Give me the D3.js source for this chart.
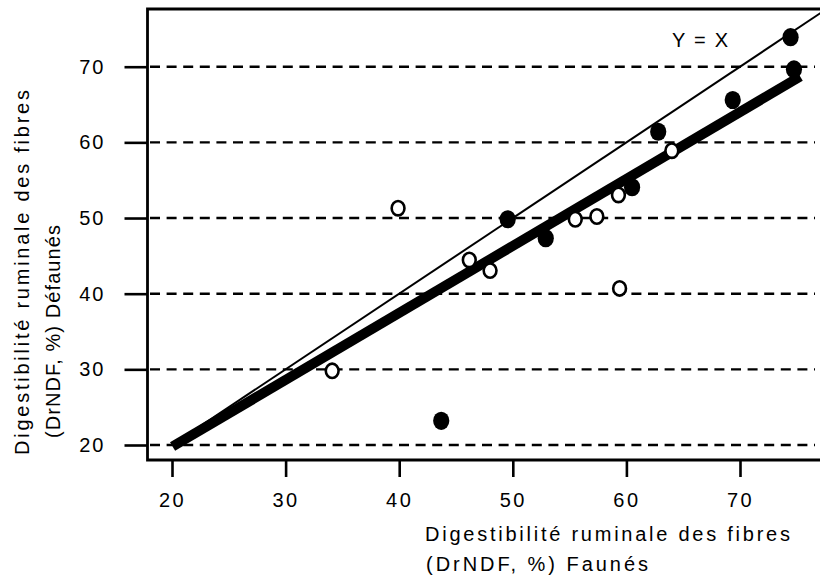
<!DOCTYPE html>
<html>
<head>
<meta charset="utf-8">
<script src="https://cdn.jsdelivr.net/npm/d3@7"></script>
<style>
  html, body { margin: 0; padding: 0; background: #fff; }
  svg { display: block; }
  text { font-family: "Liberation Sans", Arial, sans-serif; fill: #000; }
</style>
</head>
<body>
<svg id="chart" width="820" height="577"></svg>
<script>
// ---- data ----
const xTickValues = [20, 30, 40, 50, 60, 70];
const yTickValues = [20, 30, 40, 50, 60, 70];

// Filled markers
const filledX = [74.45, 74.75, 69.36, 62.8, 60.5, 49.55, 52.9, 43.7];
const filledY = [73.9, 69.65, 65.6, 61.4, 54.07, 49.84, 47.33, 23.2];

// Open markers
const openX = [39.9, 46.17, 48.0, 55.5, 57.4, 59.3, 64.0, 59.4, 34.1];
const openY = [51.3, 44.46, 43.05, 49.84, 50.2, 53.05, 58.9, 40.7, 29.8];

// Y = X reference line end points
const identityX = [20, 77.7];
const identityY = [20, 77.7];

// Fitted regression line end points
const fitX = [20.05, 75.3];
const fitY = [19.8, 68.7];

const xTitleLines = ["Digestibilité ruminale des fibres", "(DrNDF, %) Faunés"];
const yTitleLines = ["Digestibilité ruminale des fibres", "(DrNDF, %) Défaunés"];
const identityLabel = "Y = X";

// ---- layout ----
const svg = d3.select("#chart");
const frame = { left: 147.5, top: 9, bottom: 460, right: 820 };
const x = d3.scaleLinear().domain([20, 70]).range([172, 740]);
const y = d3.scaleLinear().domain([20, 70]).range([445, 66.7]);

// Dashed horizontal gridlines
svg.append("g").selectAll("line").data(yTickValues).join("line")
  .attr("x1", frame.left + 2.5).attr("x2", 815)
  .attr("y1", d => y(d)).attr("y2", d => y(d))
  .attr("stroke", "#000").attr("stroke-width", 2.4)
  .attr("stroke-dasharray", "10,6.6");

// Frame (top, left, bottom)
svg.append("path")
  .attr("d", `M${frame.right},${frame.top}H${frame.left}V${frame.bottom}H${frame.right}`)
  .attr("fill", "none").attr("stroke", "#000").attr("stroke-width", 2.8);

// Y axis ticks + labels
const yAxis = d3.axisLeft(y).tickValues(yTickValues).tickSize(23).tickPadding(19)
  .tickFormat(d3.format("d"));
const gy = svg.append("g").attr("transform", `translate(${frame.left},0)`).call(yAxis);
gy.select(".domain").remove();
gy.selectAll(".tick line").attr("stroke", "#000").attr("stroke-width", 2.6);
gy.selectAll(".tick text").attr("font-size", 20).attr("letter-spacing", 2)
  .attr("font-family", "Liberation Sans, Arial, sans-serif").attr("fill", "#000");

// X axis ticks + labels
const xAxis = d3.axisBottom(x).tickValues(xTickValues).tickSize(17).tickPadding(16)
  .tickFormat(d3.format("d"));
const gx = svg.append("g").attr("transform", `translate(0,${frame.bottom})`).call(xAxis);
gx.select(".domain").remove();
gx.selectAll(".tick line").attr("stroke", "#000").attr("stroke-width", 2.6);
gx.selectAll(".tick text").attr("font-size", 20).attr("letter-spacing", 2.5)
  .attr("font-family", "Liberation Sans, Arial, sans-serif").attr("fill", "#000");

// Identity line
const line = d3.line().x(d => x(d[0])).y(d => y(d[1]));
svg.append("path")
  .attr("d", line(d3.zip(identityX, identityY)))
  .attr("fill", "none").attr("stroke", "#000").attr("stroke-width", 2);

// Fitted line
svg.append("path")
  .attr("d", line(d3.zip(fitX, fitY)))
  .attr("fill", "none").attr("stroke", "#000").attr("stroke-width", 10)
  .attr("stroke-linecap", "butt");

// Open markers
svg.append("g").selectAll("ellipse").data(d3.zip(openX, openY)).join("ellipse")
  .attr("cx", d => x(d[0])).attr("cy", d => y(d[1]))
  .attr("rx", 6.4).attr("ry", 7.2)
  .attr("fill", "#fff").attr("stroke", "#000").attr("stroke-width", 2.6);

// Filled markers
svg.append("g").selectAll("ellipse").data(d3.zip(filledX, filledY)).join("ellipse")
  .attr("cx", d => x(d[0])).attr("cy", d => y(d[1]))
  .attr("rx", 8.1).attr("ry", 9.1)
  .attr("fill", "#000");

// Y = X label
svg.append("text").attr("x", 672).attr("y", 47)
  .attr("font-size", 20).attr("textLength", 56).attr("lengthAdjust", "spacing")
  .text(identityLabel);

// X axis title
const xTitleLayout = [{ x: 425, y: 541, len: 365 }, { x: 426, y: 571, len: 222 }];
svg.append("g").selectAll("text").data(xTitleLines).join("text")
  .attr("x", (d, i) => xTitleLayout[i].x).attr("y", (d, i) => xTitleLayout[i].y)
  .attr("font-size", 20)
  .attr("textLength", (d, i) => xTitleLayout[i].len).attr("lengthAdjust", "spacing")
  .text(d => d);

// Y axis title (rotated)
const yTitleLayout = [{ along: 455, base: 28.5, len: 365 }, { along: 438, base: 60, len: 213 }];
svg.append("g").selectAll("text").data(yTitleLines).join("text")
  .attr("transform", (d, i) => `translate(${yTitleLayout[i].base},${yTitleLayout[i].along}) rotate(-90)`)
  .attr("font-size", 20)
  .attr("textLength", (d, i) => yTitleLayout[i].len).attr("lengthAdjust", "spacing")
  .text(d => d);
</script>
</body>
</html>
